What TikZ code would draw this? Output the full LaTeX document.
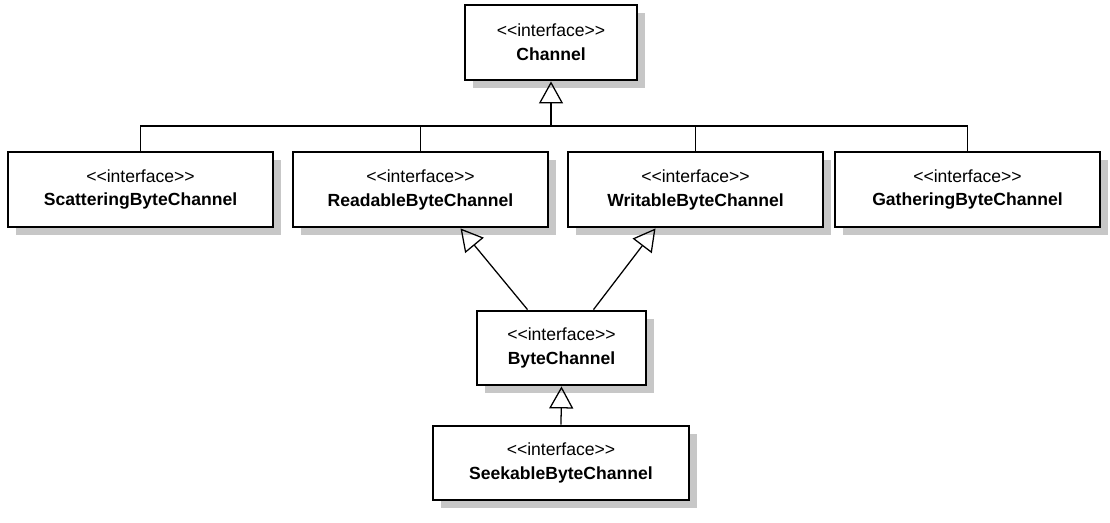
\documentclass[tikz,border=0pt]{standalone}
\usepackage{fontspec}
\setmainfont{Liberation Sans}
\usetikzlibrary{positioning,calc,shadows,arrows.meta}

\newcommand{\stereo}{{<}{<}interface{>}{>}}

\begin{document}
\begin{tikzpicture}[
    x=0.025cm, y=-0.025cm,
    iface/.style={draw, line width=2pt, fill=white, align=center, font=\fontsize{12.5}{17}\selectfont,
        minimum height=1.875cm, inner sep=2pt,
        drop shadow={opacity=1, fill=black!22, shadow xshift=0.2cm, shadow yshift=-0.2cm}},
    link/.style={draw, line width=0.9pt},
    inherit/.style={link, -{Triangle[open, length=0.55cm, width=0.6cm]}}
]
\useasboundingbox (0,0) rectangle (1110,522);

% Interfaces
\node[iface, minimum width=4.3cm] (chan) at (551,42.5) {\stereo\\\textbf{Channel}};
\node[iface, minimum width=6.625cm] (scat) at (140.5,189.5) {\stereo\\\textbf{ScatteringByteChannel}};
\node[iface, minimum width=6.375cm] (read) at (420.5,189.5) {\stereo\\\textbf{ReadableByteChannel}};
\node[iface, minimum width=6.375cm] (writ) at (695.5,189.5) {\stereo\\\textbf{WritableByteChannel}};
\node[iface, minimum width=6.625cm] (gath) at (967.5,189.5) {\stereo\\\textbf{GatheringByteChannel}};
\node[iface, minimum width=4.225cm, minimum height=1.85cm] (byte) at (561.5,348) {\stereo\\\textbf{ByteChannel}};
\node[iface, minimum width=6.4cm, minimum height=1.85cm] (seek) at (561,463) {\stereo\\\textbf{SeekableByteChannel}};

% Generalizations of Channel
\coordinate (bus) at (551,126);
\draw[link] (scat.north) |- (bus);
\draw[link] (read.north) |- (bus);
\draw[link] (writ.north) |- (bus);
\draw[link] (gath.north) |- (bus);
\draw[inherit] (bus) -- (chan.south);

% ByteChannel extends both
\coordinate (byteL) at ($(byte.north)+(-34,0)$);
\coordinate (byteR) at ($(byte.north)+(32,0)$);
\coordinate (readB) at ($(read.south)+(40,0)$);
\coordinate (writB) at ($(writ.south)+(-40,0)$);
\draw[inherit] (byteL) -- (readB);
\draw[inherit] (byteR) -- (writB);

% SeekableByteChannel extends ByteChannel
\draw[inherit] (seek.north) -- (byte.south);

\end{tikzpicture}
\end{document}
